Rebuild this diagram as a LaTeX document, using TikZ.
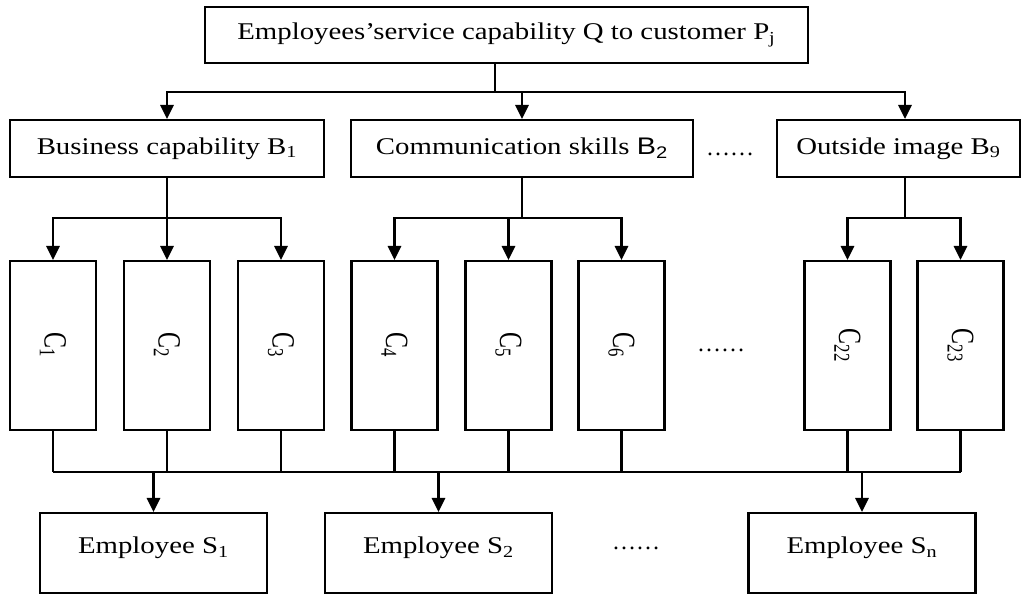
\documentclass[tikz,border=0pt]{standalone}
\usepackage{fontspec}
\setmainfont{Liberation Serif}
\newfontfamily\arialfont{Liberation Sans}
\usepackage{graphicx}
\usetikzlibrary{arrows.meta}

\newcommand{\widetext}[1]{\scalebox{1.2}[1]{#1}}
\newcommand{\critlabel}[1]{\rotatebox{-90}{\scalebox{1}[1.35]{C\textsubscript{#1}}}}

\begin{document}
\begin{tikzpicture}[x=.75pt,y=-.75pt,
  box/.style={draw,line width=1.7pt,inner sep=0pt,minimum height=42.75pt,font=\fontsize{18}{21.6}\selectfont},
  cbox/.style={box,minimum width=64.5pt,minimum height=126.75pt},
  sbox/.style={box,minimum width=170.25pt,minimum height=60pt,text depth=11.5pt},
  dotsnode/.style={inner sep=0pt,font=\fontsize{18}{21.6}\selectfont},
  link/.style={line width=1.7pt},
  arr/.style={link,-{Triangle[length=10.5pt,width=10pt]}}]
\path[use as bounding box] (0,0) rectangle (1026,594);
\path[fill=white] (0,0) rectangle (1026,594);

\node[box,minimum width=452.25pt,minimum height=42pt] (top) at (506.5,35) {\widetext{Employees’service capability Q to customer P\textsubscript{j}}\hspace{10pt}};

\node[box,minimum width=235.5pt] (b1) at (167,148.5) {\widetext{Business capability B\textsubscript{1}}};
\node[box,minimum width=256.5pt] (b2) at (522,148.5) {\widetext{Communication skills {\arialfont B\textsubscript{2}}}};
\node[box,minimum width=182.25pt] (b9) at (898.5,148.5) {\widetext{Outside image B\textsubscript{9}}};
\node[dotsnode] (bdots) at (730,154) {……};

\foreach \n/\x in {1/53,2/167,3/281,4/394.5,5/508.5,6/621.5,22/847.5,23/960.5}
  \node[cbox] (c\n) at (\x,345.5) {\critlabel{\n}};
\node[dotsnode] (cdots) at (721,350) {……};

\node[sbox] (s1) at (153.5,553) {\widetext{Employee S\textsubscript{1}}};
\node[sbox] (s2) at (438.5,553) {\widetext{Employee S\textsubscript{2}}};
\node[sbox] (sn) at (862,553) {\widetext{Employee S\textsubscript{n}}};
\node[dotsnode] (sdots) at (636,548) {……};

% top level to the B criteria
\coordinate (qsplit) at (495,92);
\draw[link] (top.south -| qsplit) -- (qsplit);
\draw[arr] (qsplit) -| (b1);
\draw[arr] (qsplit) -| (b2);
\coordinate (b9split) at (905,218);
\draw[arr] (qsplit) -| (b9.north -| b9split);

% B criteria to the C indicators
\coordinate (b1split) at (167,218);
\coordinate (b2split) at (522,218);
\draw[link] (b1) -- (b1split);
\draw[link] (b2) -- (b2split);
\draw[link] (b9.south -| b9split) -- (b9split);
\foreach \n in {1,2,3} \draw[arr] (b1split) -| (c\n);
\foreach \n in {4,5,6} \draw[arr] (b2split) -| (c\n);
\foreach \n in {22,23} \draw[arr] (b9split) -| (c\n);

% C indicators down to the employees
\coordinate (merge) at (0,472);
\foreach \n in {1,2,3,4,5,6,22,23} \draw[link] (c\n) -- (c\n |- merge);
\draw[link] (c1 |- merge) -- (c23 |- merge);
\foreach \s in {s1,s2,sn} \draw[arr] (\s |- merge) -- (\s);
\end{tikzpicture}
\end{document}
